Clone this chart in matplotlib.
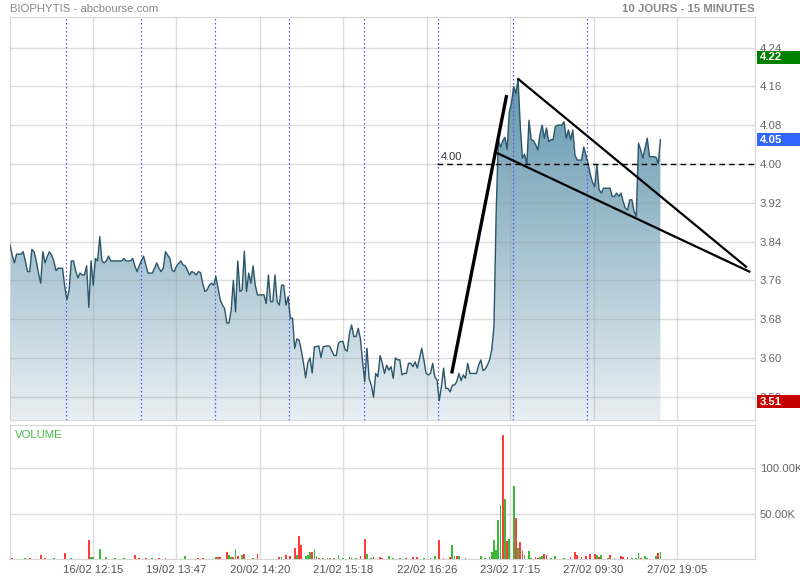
import numpy as np
import matplotlib
matplotlib.use("Agg")
import matplotlib.pyplot as plt
from matplotlib.colors import LinearSegmentedColormap
from matplotlib.patches import Polygon, Rectangle
import matplotlib.transforms as mtransforms

plt.rcParams['font.family'] = ['Liberation Sans', 'DejaVu Sans']

# cours 15 minutes, une liste par seance
day1 = [3.833, 3.812, 3.796, 3.814, 3.814, 3.814, 3.819, 3.800, 3.778, 3.778,
        3.824, 3.819, 3.800, 3.775, 3.754, 3.819, 3.796, 3.809, 3.819, 3.812,
        3.800, 3.780, 3.785, 3.785, 3.785, 3.747]
day2 = [3.720, 3.740, 3.800, 3.800, 3.780, 3.765, 3.775, 3.771, 3.771, 3.790,
        3.704, 3.800, 3.750, 3.805, 3.800, 3.850, 3.800, 3.796, 3.800, 3.810,
        3.800, 3.800, 3.800, 3.800, 3.800, 3.800, 3.805, 3.800, 3.800, 3.800,
        3.805, 3.790, 3.778, 3.790]
day3 = [3.800, 3.810, 3.792, 3.775, 3.775, 3.775, 3.785, 3.796, 3.785, 3.778,
        3.785, 3.819, 3.812, 3.805, 3.781, 3.778, 3.789, 3.795, 3.800, 3.792,
        3.790, 3.781, 3.771, 3.778, 3.776, 3.771, 3.778, 3.776, 3.754, 3.737,
        3.740, 3.750, 3.754, 3.750]
day4 = [3.768, 3.744, 3.720, 3.709, 3.702, 3.672, 3.672, 3.699, 3.760, 3.695,
        3.800, 3.737, 3.740, 3.820, 3.737, 3.775, 3.754, 3.790, 3.750, 3.730,
        3.730, 3.730, 3.730, 3.712, 3.771, 3.716, 3.716, 3.771, 3.716, 3.709,
        3.750, 3.750, 3.709, 3.726]
day5 = [3.682, 3.682, 3.620, 3.639, 3.637, 3.616, 3.590, 3.559, 3.590, 3.600,
        3.569, 3.623, 3.623, 3.625, 3.601, 3.623, 3.624, 3.625, 3.624, 3.614,
        3.605, 3.605, 3.631, 3.634, 3.634, 3.617, 3.614, 3.650, 3.668, 3.644,
        3.644, 3.661, 3.640, 3.592]
day6 = [3.551, 3.620, 3.557, 3.544, 3.519, 3.568, 3.561, 3.605, 3.589, 3.568,
        3.585, 3.575, 3.582, 3.558, 3.600, 3.596, 3.596, 3.565, 3.568, 3.568,
        3.589, 3.589, 3.582, 3.592, 3.579, 3.600, 3.620, 3.596, 3.568, 3.565,
        3.568, 3.589, 3.561, 3.554]
day7 = [3.512, 3.541, 3.579, 3.537, 3.537, 3.530, 3.544, 3.544, 3.551, 3.568,
        3.553, 3.565, 3.558, 3.589, 3.568, 3.568, 3.568, 3.568, 3.585, 3.596,
        3.574, 3.577, 3.585, 3.596, 3.617, 3.665, 3.900, 4.050, 4.035, 4.047,
        4.055, 4.030, 4.107, 4.125]
day8 = [4.160, 4.145, 4.175, 4.080, 4.012, 4.020, 3.998, 4.090, 4.050, 4.048,
        4.040, 4.029, 4.060, 4.080, 4.053, 4.074, 4.046, 4.050, 4.050, 4.077,
        4.080, 4.080, 4.080, 4.087, 4.053, 4.070, 4.050, 4.070, 4.018, 4.008,
        4.008, 4.008, 4.035, 4.018]
day9 = [4.001, 3.978, 3.962, 3.953, 3.998, 3.947, 3.940, 3.950, 3.950, 3.950,
        3.950, 3.933, 3.933, 3.940, 3.933, 3.940, 3.922, 3.909, 3.905, 3.926,
        3.926, 3.902, 3.892, 4.043, 4.029, 4.012, 4.033, 4.053, 4.015, 4.015,
        4.015, 4.014, 4.001, 4.050]
days = [day1, day2, day3, day4, day5, day6, day7, day8, day9]

# volumes (en milliers), barres non nulles seulement
vol_idx = [1, 7, 9, 14, 16, 20, 25, 28, 36, 37,
           38, 41, 44, 48, 52, 57, 59, 62, 65, 68,
           71, 80, 86, 88, 94, 95, 96, 99, 100, 101,
           102, 103, 104, 106, 107, 111, 113, 123, 124, 126,
           128, 130, 131, 132, 133, 135, 136, 137, 138, 139,
           140, 141, 143, 145, 146, 148, 150, 152, 155, 156,
           158, 160, 162, 163, 165, 166, 169, 170, 173, 175,
           178, 181, 184, 186, 189, 192, 194, 196, 198, 201,
           202, 203, 204, 205, 208, 215, 217, 219, 220, 221,
           222, 223, 224, 225, 226, 227, 228, 230, 231, 232,
           233, 234, 235, 237, 238, 240, 241, 242, 243, 244,
           245, 247, 249, 253, 256, 258, 259, 261, 263, 265,
           267, 268, 269, 270, 273, 274, 276, 279, 280, 282,
           284, 286, 287, 288, 290, 291, 295, 296, 297]
vol_k = [0.7, 1.5, 1.5, 4.0, 0.8, 0.8, 6.6, 1.5, 20.5, 2.5,
         2.5, 11.0, 2.0, 0.8, 1.5, 4.0, 1.0, 1.5, 1.0, 0.8,
         0.8, 3.7, 0.6, 0.6, 2.0, 2.0, 2.0, 7.7, 4.0, 2.5,
         2.5, 11.3, 3.0, 4.0, 5.0, 0.8, 5.0, 1.8, 2.0, 4.4,
         3.7, 12.4, 4.4, 25.6, 15.7, 3.7, 4.0, 7.7, 7.3, 11.0,
         3.3, 0.7, 1.5, 1.5, 1.5, 1.5, 4.0, 0.8, 2.5, 1.5,
         0.8, 3.7, 22.0, 5.0, 1.5, 2.0, 2.5, 0.8, 3.0, 0.8,
         0.6, 0.6, 2.0, 2.5, 0.6, 0.6, 3.7, 21.0, 0.6, 1.8,
         15.0, 3.0, 3.0, 3.3, 1.5, 3.7, 1.5, 2.0, 7.7, 21.0,
         10.0, 43.0, 60.0, 136.5, 66.0, 20.0, 22.0, 80.5, 45.0, 12.4,
         18.3, 9.0, 4.8, 8.4, 0.8, 2.5, 1.5, 2.0, 2.8, 5.0,
         4.8, 0.8, 3.0, 0.6, 2.0, 7.7, 4.8, 1.8, 3.0, 5.9,
         5.0, 4.0, 2.5, 4.0, 0.8, 4.8, 0.8, 3.7, 2.0, 2.5,
         1.0, 1.2, 7.0, 1.5, 3.7, 0.8, 3.0, 6.2, 8.0]
vol_side = ("rgrrrgrgrg" "gggggrrrgr" "rgrrgrrrgg" "rgrgrgrrgr" "rrgrrgggrg"
            "grgrgrgggr" "grrggrrrgg" "grrrgggrrr" "ggrggggggg" "gggrgrggrg"
            "rrgggrrggr" "rgggrrrrrr" "rgrggrgrrr" "gggrgggrg")

tick_labels = ["16/02 12:15", "19/02 13:47", "20/02 14:20", "21/02 15:18",
               "22/02 16:26", "23/02 17:15", "27/02 09:30", "27/02 19:05"]
price_ticks = [3.52, 3.60, 3.68, 3.76, 3.84, 3.92, 4.00, 4.08, 4.16, 4.24]
flags = [(4.22, '#008000'), (4.05, '#3366ff'), (3.51, '#c40000')]
ref_level = 4.00

# traces dessinees a la main sur le graphique
spike_x, spike_y = [201.7, 226.8], [3.568, 4.142]
wedge_top_x, wedge_top_y = [232.1, 336.1], [4.175, 3.788]
wedge_bot_x, wedge_bot_y = [222.2, 337.6], [4.023, 3.778]

price = np.concatenate(days)
x = np.arange(len(price))
day_start = np.cumsum([0] + [len(d) for d in days])[1:-1]
tick_pos = 37.9 + 38.1 * np.arange(len(tick_labels))
XMAX = 340.2
YLO, YHI = 3.472, 4.303

fig = plt.figure(figsize=(8, 5.8), dpi=100)
ax = fig.add_axes([10/800, 160/580, 745/800, 403/580])
axv = fig.add_axes([10/800, 21/580, 745/800, 134/580])

# remplissage en degrade sous la courbe
verts = [(x[0], YLO)] + list(zip(x, price)) + [(x[-1], YLO)]
clip = Polygon(verts, closed=True, facecolor='none', edgecolor='none')
ax.add_patch(clip)
cmap = LinearSegmentedColormap.from_list('fill', ['#e9eff3', '#4b87a3'])
grad = np.linspace(1, 0, 256).reshape(-1, 1)
im = ax.imshow(grad, extent=[0, XMAX, YLO, YHI], aspect='auto', cmap=cmap,
               origin='upper', zorder=1)
im.set_clip_path(clip)
ax.plot(x, price, color='#2b5569', lw=1, zorder=3)

for d in day_start:
    ax.axvline(d - 0.4, color='#5050ff', ls=(0, (1.2, 2)), lw=0.9, zorder=2.6)

ax.plot([194.8, XMAX], [ref_level, ref_level], color='black', lw=1,
        dashes=(4, 3), zorder=4)
ax.text(196.5, ref_level + 0.004, "4.00", fontsize=8, color='#333333',
        va='bottom', ha='left', zorder=4)

ax.plot(spike_x, spike_y, color='black', lw=2.4, zorder=5, solid_capstyle='butt')
ax.plot(wedge_top_x, wedge_top_y, color='black', lw=1.6, zorder=5)
ax.plot(wedge_bot_x, wedge_bot_y, color='black', lw=1.6, zorder=5)

ax.set_xlim(0, XMAX)
ax.set_ylim(YLO, YHI)
ax.set_xticks(tick_pos)
ax.set_xticklabels([])
ax.set_yticks(price_ticks)
ax.set_yticklabels([f"{t:.2f}" for t in price_ticks])
ax.yaxis.tick_right()
ax.tick_params(length=0, labelsize=8.2, labelcolor='#666666', pad=3.6)
ax.grid(True, color='#999999', alpha=0.33, lw=1)
ax.set_axisbelow(False)
for s in ax.spines.values():
    s.set_color('#d6d6d6')

tr = mtransforms.blended_transform_factory(fig.transFigure, ax.transData)
h = 13 / 403 * (YHI - YLO)
for val, col in flags:
    ax.add_patch(Rectangle((757/800, val - h/2), 43/800, h, transform=tr,
                           facecolor=col, edgecolor='none', clip_on=False, zorder=10))
    ax.text(760/800, val, f"{val:.2f}", transform=tr, color='white', fontsize=8.2,
            fontweight='bold', va='center', ha='left', zorder=11, clip_on=False)

# volumes
colors = ['#ff3b3b' if c == 'r' else '#3cb83c' for c in vol_side]
axv.bar(vol_idx, np.array(vol_k) * 1000, width=0.8, color=colors, zorder=3)
axv.set_xlim(0, XMAX)
axv.set_ylim(0, 147600)
axv.set_xticks(tick_pos)
axv.set_xticklabels(tick_labels)
axv.set_yticks([50000, 100000])
axv.set_yticklabels(["50.00K", "100.00K"])
axv.yaxis.tick_right()
axv.tick_params(length=0, labelsize=8.2, labelcolor='#666666', pad=3.6)
axv.tick_params(axis='x', labelcolor='#555555', pad=4.5)
axv.grid(True, color='#dddddd', lw=1)
axv.set_axisbelow(True)
for s in axv.spines.values():
    s.set_color('#d6d6d6')
axv.text(5/745, 1 - 5/134, "VOLUME", transform=axv.transAxes, color='#44bb44',
         fontsize=8.2, va='top', ha='left')

fig.text(10/800, 1 - 9/580, "BIOPHYTIS - abcbourse.com", color='#888888',
         fontsize=8.2, va='center', ha='left')
fig.text(755/800, 1 - 9/580, "10 JOURS - 15 MINUTES", color='#888888',
         fontsize=8.2, fontweight='bold', va='center', ha='right')

fig.savefig("out.png", dpi=100)
